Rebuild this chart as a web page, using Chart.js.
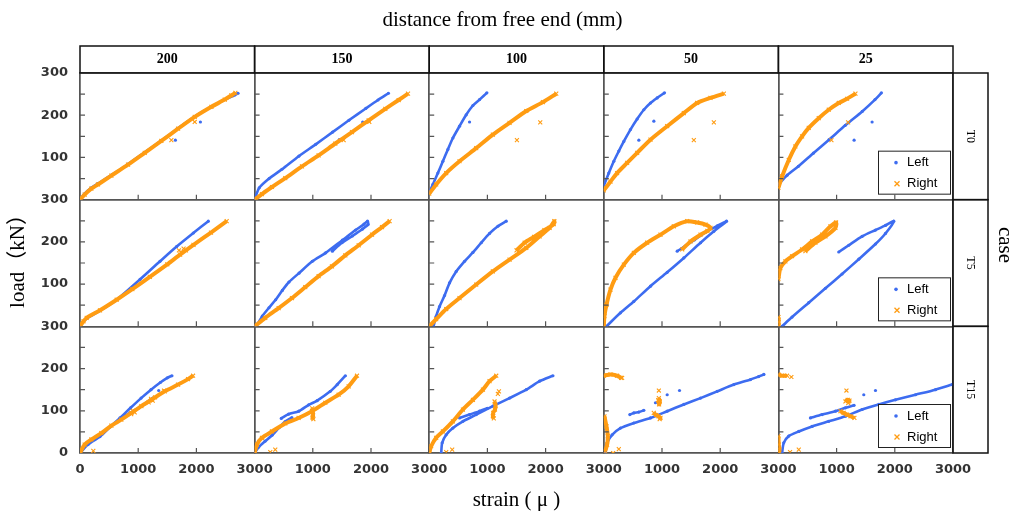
<!DOCTYPE html>
<html>
<head>
<meta charset="utf-8">
<script src="https://cdn.jsdelivr.net/npm/chart.js@4.4.1/dist/chart.umd.min.js"></script>
<style>
  html, body { margin: 0; padding: 0; background: #fff; }
  canvas { display: block; }
</style>
</head>
<body>
<canvas id="chart" width="1017" height="513"></canvas>
<script>
// facet labels and ticks
const distances = ['200', '150', '100', '50', '25'];
const cases = ['T0', 'T5', 'T15'];
const xTickVals = [1000, 2000];
const yTickVals = [50, 100, 150, 200, 250];

// ---- T0 ----  [strain, load]
const t0_200_left = [[0,0],[80,14],[195,28],[309,38],[539,58],[825,84],[1112,112],[1398,140],[1685,169],[1971,197],[2258,220],[2487,237],[2659,248],[2716,252]];
const t0_200_right = [[0,0],[80,12],[195,26],[309,36],[539,57],[825,83],[1112,111],[1398,139],[1685,168],[1971,196],[2258,220],[2487,237],[2600,247],[2670,253]];
const t0_200_left_pts = [[1639,141],[2069,184]];
const t0_200_right_pts = [[1570,141],[1971,184]];

const t0_150_left = [[0,0],[80,28],[250,50],[470,72],[760,103],[1050,131],[1340,160],[1620,188],[1910,216],[2120,236],[2300,252]];
const t0_150_right = [[0,0],[126,13],[298,30],[527,51],[814,79],[1100,105],[1387,133],[1673,160],[1960,188],[2246,215],[2475,236],[2636,251]];
const t0_150_left_pts = [[1455,142],[1857,184]];
const t0_150_right_pts = [[1530,141],[1971,184]];

const t0_100_left = [[0,17],[63,36],[149,63],[235,91],[321,119],[407,146],[521,174],[636,201],[751,223],[865,237],[991,253]];
const t0_100_right = [[0,14],[120,36],[292,63],[521,91],[808,122],[1094,154],[1381,182],[1668,210],[1954,231],[2183,251]];
const t0_100_left_pts = [[693,184]];
const t0_100_right_pts = [[1507,141],[1908,183]];

const t0_50_left = [[0,33],[86,63],[172,91],[258,115],[344,138],[458,166],[573,191],[688,213],[802,229],[917,241],[1043,253]];
const t0_50_right = [[0,22],[115,43],[229,63],[401,87],[573,111],[802,142],[1089,174],[1375,205],[1604,229],[1833,241],[2063,251]];
const t0_50_left_pts = [[602,141],[860,186]];
const t0_50_right_pts = [[1547,141],[1891,183]];

const t0_25_left = [[0,36],[150,58],[344,79],[600,110],[870,142],[1150,176],[1440,209],[1660,237],[1770,253]];
const t0_25_right = [[0,28],[63,55],[178,94],[292,126],[407,150],[521,170],[693,193],[865,213],[1037,229],[1180,239],[1324,251]];
const t0_25_left_pts = [[1301,141],[1610,184]];
const t0_25_right_pts = [[911,141],[1198,183]];

// ---- T5 ----
const t5_200_left = [[0,0],[60,11],[115,19],[344,37],[630,63],[1031,111],[1375,154],[1661,189],[1947,221],[2205,249]];
const t5_200_right = [[0,0],[60,12],[115,20],[344,38],[630,63],[900,88],[1200,117],[1500,147],[1720,170],[1950,193],[2250,222],[2520,249]];
const t5_200_right_pts = [[1700,180],[1740,176],[1780,184],[1820,180]];

const t5_150_left = [[0,0],[46,5],[132,24],[247,44],[362,63],[476,85],[591,105],[763,126],[992,154],[1221,174],[1507,204],[1736,228],[1880,242],[1940,249],[1950,241],[1850,230],[1680,214],[1500,198],[1336,178]];
const t5_150_right = [[0,0],[183,20],[413,43],[642,67],[871,93],[1100,119],[1329,142],[1559,168],[1788,192],[2017,217],[2189,235],[2320,249]];

const t5_100_left = [[74,0],[120,24],[178,47],[264,73],[350,103],[464,130],[607,154],[751,175],[894,198],[1037,220],[1180,237],[1324,249]];
const t5_100_right = [[0,0],[120,17],[292,41],[521,67],[808,99],[1094,130],[1381,158],[1668,186],[1897,213],[2069,233],[2150,249],[2140,242],[1980,228],[1800,212],[1640,198],[1500,180]];

const t5_50_left = [[46,0],[286,32],[516,59],[802,95],[1089,128],[1375,162],[1662,198],[1891,225],[2109,249],[1950,238],[1750,223],[1560,205],[1400,190],[1261,178]];
const t5_50_right = [[0,0],[11,24],[46,51],[115,87],[201,115],[344,146],[516,174],[745,198],[974,217],[1203,237],[1433,249],[1604,246],[1748,241],[1833,233],[1780,226],[1662,217],[1490,201],[1347,182]];

const t5_25_left = [[63,0],[235,22],[521,56],[808,90],[1094,124],[1381,159],[1668,195],[1840,220],[1983,249],[1840,239],[1668,228],[1438,213],[1209,192],[1037,176]];
const t5_25_right = [[0,112],[34,138],[120,154],[235,166],[407,182],[579,201],[751,217],[894,237],[991,246],[980,233],[808,213],[636,198],[464,178]];
const t5_25_right_low = [[2,0],[4,10],[2,22]];

// ---- T15 ----
const t15_200_left = [[0,0],[138,20],[344,39],[520,62],[687,83],[870,107],[1050,130],[1220,150],[1380,167],[1500,178],[1580,183]];
const t15_200_left_b = [[740,86],[860,95],[1000,106],[1120,117],[1250,130]];
const t15_200_left_pts = [[1352,148]];
const t15_200_right = [[0,0],[80,20],[195,32],[367,47],[539,65],[710,79],[882,95],[1055,111],[1226,126],[1455,146],[1685,162],[1857,175],[1943,183]];
const t15_200_right_pts = [[880,92],[910,100],[940,96],[1180,120],[1220,128],[1250,124],[1290,132],[1444,148],[229,5]];

const t15_150_left = [[0,0],[70,14],[180,28],[300,42],[420,60],[520,74],[640,84]];
const t15_150_left_b = [[458,82],[584,92],[760,99],[930,114],[1075,124],[1300,146],[1420,162],[1560,183]];
const t15_150_right = [[0,0],[40,20],[126,36],[298,51],[527,70],[756,83],[986,99],[1215,119],[1444,138],[1616,158],[1759,183]];
const t15_150_right_b = [[990,106],[1000,98],[1005,90],[995,84],[1010,80]];
const t15_150_right_pts = [[355,8],[269,2]];

const t15_100_left = [[206,0],[223,24],[292,43],[407,59],[579,75],[808,91],[1094,111],[1381,130],[1668,150],[1897,170],[2126,183]];
const t15_100_left_b = [[521,83],[693,91],[865,99],[1000,106]];
const t15_100_right = [[0,0],[34,16],[120,36],[235,51],[407,75],[579,103],[751,126],[923,150],[1037,170],[1152,183]];
const t15_100_right_b = [[1123,122],[1140,112],[1130,103],[1100,95],[1094,87],[1110,82]];
const t15_100_right_pts = [[1198,146],[1180,140],[395,8],[292,2]];

const t15_50_left = [[29,0],[57,24],[143,43],[286,59],[516,71],[802,83],[1089,99],[1375,115],[1662,130],[1948,146],[2235,162],[2521,174],[2750,186],[2660,181]];
const t15_50_left_b = [[447,91],[516,95],[602,97],[688,101]];
const t15_50_left_pts = [[888,119],[1089,138],[1301,148]];
const t15_50_right_top = [[0,183],[115,186],[229,183],[298,178]];
const t15_50_right_edge = [[11,87],[46,63],[69,40],[57,20],[23,4]];
const t15_50_right_b = [[946,130],[963,122],[950,115],[935,125]];
const t15_50_right_c = [[859,95],[900,90],[940,87],[974,83],[960,80]];
const t15_50_right_pts = [[315,178],[946,148],[258,9],[160,0]];

const t15_25_left = [[63,0],[92,24],[178,40],[350,51],[579,63],[865,75],[1152,87],[1438,103],[1725,115],[2011,126],[2355,138],[2699,150],[2985,162]];
const t15_25_left_b = [[550,83],[751,91],[980,99],[1152,107],[1300,113]];
const t15_25_left_pts = [[1467,138],[1668,148]];
const t15_25_right_top = [[0,186],[63,183],[149,183]];
const t15_25_right_edge = [[0,40],[6,20],[17,8],[6,0]];
const t15_25_right_b = [[1152,122],[1190,126],[1221,124],[1200,118]];
const t15_25_right_c = [[1066,99],[1120,95],[1180,91],[1240,87],[1306,83]];
const t15_25_right_pts = [[223,180],[1169,148],[350,8],[200,2]];

const blue = '#3d6cf0';
const orange = '#ff9c12';
const edgeColor = '#555';

const datasets = [];

function add(row, col, side, pts, joined = true) {
    const isLeft = side === 'L';
    const color = isLeft ? blue : orange;
    datasets.push({
        label: isLeft ? 'Left' : 'Right',
        data: pts.map(([x, y]) => ({ x, y })),
        xAxisID: 'x' + col,
        yAxisID: 'y' + row,
        showLine: joined,
        borderColor: color,
        backgroundColor: color,
        borderWidth: isLeft ? 2.6 : 4,
        tension: 0.25,
        pointStyle: isLeft ? 'circle' : 'crossRot',
        pointRadius: isLeft ? 1.6 : 2.8,
        pointBorderWidth: isLeft ? 0 : 1.1,
        pointBorderColor: color,
        pointBackgroundColor: color,
        pointHoverRadius: 0,
        order: isLeft ? 1 : 0
    });
}

// T0
add(0, 0, 'L', t0_200_left); add(0, 0, 'R', t0_200_right);
add(0, 0, 'L', t0_200_left_pts, false); add(0, 0, 'R', t0_200_right_pts, false);
add(0, 1, 'L', t0_150_left); add(0, 1, 'R', t0_150_right);
add(0, 1, 'L', t0_150_left_pts, false); add(0, 1, 'R', t0_150_right_pts, false);
add(0, 2, 'L', t0_100_left); add(0, 2, 'R', t0_100_right);
add(0, 2, 'L', t0_100_left_pts, false); add(0, 2, 'R', t0_100_right_pts, false);
add(0, 3, 'L', t0_50_left); add(0, 3, 'R', t0_50_right);
add(0, 3, 'L', t0_50_left_pts, false); add(0, 3, 'R', t0_50_right_pts, false);
add(0, 4, 'L', t0_25_left); add(0, 4, 'R', t0_25_right);
add(0, 4, 'L', t0_25_left_pts, false); add(0, 4, 'R', t0_25_right_pts, false);

// T5
add(1, 0, 'L', t5_200_left); add(1, 0, 'R', t5_200_right);
add(1, 0, 'R', t5_200_right_pts, false);
add(1, 1, 'L', t5_150_left); add(1, 1, 'R', t5_150_right);
add(1, 2, 'L', t5_100_left); add(1, 2, 'R', t5_100_right);
add(1, 3, 'L', t5_50_left); add(1, 3, 'R', t5_50_right);
add(1, 4, 'L', t5_25_left); add(1, 4, 'R', t5_25_right);
add(1, 4, 'R', t5_25_right_low);

// T15
add(2, 0, 'L', t15_200_left); add(2, 0, 'L', t15_200_left_b);
add(2, 0, 'L', t15_200_left_pts, false);
add(2, 0, 'R', t15_200_right); add(2, 0, 'R', t15_200_right_pts, false);
add(2, 1, 'L', t15_150_left); add(2, 1, 'L', t15_150_left_b);
add(2, 1, 'R', t15_150_right); add(2, 1, 'R', t15_150_right_b);
add(2, 1, 'R', t15_150_right_pts, false);
add(2, 2, 'L', t15_100_left); add(2, 2, 'L', t15_100_left_b);
add(2, 2, 'R', t15_100_right); add(2, 2, 'R', t15_100_right_b);
add(2, 2, 'R', t15_100_right_pts, false);
add(2, 3, 'L', t15_50_left); add(2, 3, 'L', t15_50_left_b);
add(2, 3, 'L', t15_50_left_pts, false);
add(2, 3, 'R', t15_50_right_top); add(2, 3, 'R', t15_50_right_edge);
add(2, 3, 'R', t15_50_right_b); add(2, 3, 'R', t15_50_right_c);
add(2, 3, 'R', t15_50_right_pts, false);
add(2, 4, 'L', t15_25_left); add(2, 4, 'L', t15_25_left_b);
add(2, 4, 'L', t15_25_left_pts, false);
add(2, 4, 'R', t15_25_right_top); add(2, 4, 'R', t15_25_right_edge);
add(2, 4, 'R', t15_25_right_b); add(2, 4, 'R', t15_25_right_c);
add(2, 4, 'R', t15_25_right_pts, false);

const tickFont = { family: 'DejaVu Sans', size: 13, weight: 'bold' };
const edgeGrid = (lo, hi) => ({
    color: c => (c.tick && (c.tick.value === lo || c.tick.value === hi)) ? edgeColor : 'rgba(0,0,0,0)',
    lineWidth: 1.5,
    drawTicks: false
});

const scales = {};
distances.forEach((d, i) => {
    scales['x' + i] = {
        type: 'linear',
        position: 'bottom',
        stack: 'cols',
        stackWeight: 1,
        min: 0,
        max: 3000,
        ticks: {
            stepSize: 1000,
            maxRotation: 0,
            autoSkip: false,
            padding: 9,
            color: '#333',
            font: tickFont,
            callback: v => (i > 0 && v === 0) ? '' : String(v)
        },
        grid: edgeGrid(0, 3000),
        border: { color: edgeColor, width: 1.5 },
        afterFit: s => { s.height = 30; }
    };
});
// left boxes are laid out in reverse order, so the bottom row goes in first
cases.map((c, j) => j).reverse().forEach(j => {
    scales['y' + j] = {
        type: 'linear',
        position: 'left',
        stack: 'rows',
        stackWeight: 1,
        min: 0,
        max: 300,
        ticks: {
            stepSize: 100,
            autoSkip: false,
            padding: 12,
            color: '#333',
            font: tickFont,
            callback: v => (j < cases.length - 1 && v === 0) ? '' : String(v)
        },
        grid: edgeGrid(0, 300),
        border: { color: edgeColor, width: 1.5 },
        afterFit: s => { s.width = 52; }
    };
});

const facetPlugin = {
    id: 'facets',
    afterDatasetsDraw(chart) {
        const { ctx } = chart;
        const xs = distances.map((_, i) => chart.scales['x' + i]);
        const ys = cases.map((_, j) => chart.scales['y' + j]);
        ctx.save();

        // inward tick marks in every panel
        ctx.strokeStyle = edgeColor;
        ctx.lineWidth = 1.2;
        ctx.beginPath();
        ys.forEach(y => xs.forEach(x => {
            const x0 = x.getPixelForValue(0);
            const y0 = y.getPixelForValue(0);
            xTickVals.forEach(v => {
                const px = x.getPixelForValue(v);
                ctx.moveTo(px, y0);
                ctx.lineTo(px, y0 - 5);
            });
            yTickVals.forEach(v => {
                const py = y.getPixelForValue(v);
                ctx.moveTo(x0, py);
                ctx.lineTo(x0 + 5, py);
            });
        }));
        ctx.stroke();

        // legend box in the last column of each row
        const last = xs[xs.length - 1];
        ys.forEach(y => {
            const w = 72, h = 43;
            const l = last.right - 3 - w;
            const t = y.bottom - 6 - h;
            ctx.fillStyle = '#fff';
            ctx.fillRect(l, t, w, h);
            ctx.strokeStyle = '#222';
            ctx.lineWidth = 1;
            ctx.strokeRect(l + 0.5, t + 0.5, w, h);
            ctx.fillStyle = blue;
            ctx.beginPath();
            ctx.arc(l + 18, t + 12, 1.8, 0, Math.PI * 2);
            ctx.fill();
            ctx.strokeStyle = orange;
            ctx.lineWidth = 1.3;
            ctx.beginPath();
            ctx.moveTo(l + 16.5, t + 30.5); ctx.lineTo(l + 21.5, t + 35.5);
            ctx.moveTo(l + 21.5, t + 30.5); ctx.lineTo(l + 16.5, t + 35.5);
            ctx.stroke();
            ctx.fillStyle = '#000';
            ctx.font = '13px "Liberation Sans", Arial, sans-serif';
            ctx.textAlign = 'left';
            ctx.textBaseline = 'middle';
            ctx.fillText('Left', l + 29, t + 12);
            ctx.fillText('Right', l + 29, t + 33);
        });
        ctx.restore();
    },
    afterDraw(chart) {
        const { ctx, chartArea: area } = chart;
        const xs = distances.map((_, i) => chart.scales['x' + i]);
        const ys = cases.map((_, j) => chart.scales['y' + j]);
        ctx.save();
        ctx.strokeStyle = '#111';
        ctx.lineWidth = 1.5;
        ctx.fillStyle = '#000';
        ctx.textAlign = 'center';
        ctx.textBaseline = 'middle';

        // column strips
        ctx.font = 'bold 14px "Liberation Serif", serif';
        xs.forEach((x, i) => {
            ctx.strokeRect(x.left, area.top - 27, x.width, 27);
            ctx.fillText(distances[i], (x.left + x.right) / 2, area.top - 13.5);
        });

        // row strips
        ctx.font = '12px "Liberation Serif", serif';
        ys.forEach((y, j) => {
            ctx.strokeRect(area.right, y.top, 35, y.height);
            ctx.save();
            ctx.translate(area.right + 17.5, (y.top + y.bottom) / 2);
            ctx.rotate(Math.PI / 2);
            ctx.fillText(cases[j], 0, 0);
            ctx.restore();
        });

        // titles
        const cx = (area.left + area.right) / 2;
        ctx.font = '21px "Liberation Serif", "Noto Sans CJK JP", serif';
        ctx.fillText('distance from free end (mm)', cx - 14, area.top - 53);
        ctx.fillText('strain ( \u03bc )', cx, area.bottom + 47);

        ctx.save();
        ctx.translate(18, 256);
        ctx.rotate(-Math.PI / 2);
        ctx.fillText('load\uff08kN\uff09', 0, 0);
        ctx.restore();

        ctx.save();
        ctx.translate(1005, 245);
        ctx.rotate(Math.PI / 2);
        ctx.fillText('case', 0, 0);
        ctx.restore();

        ctx.restore();
    }
};

new Chart(document.getElementById('chart').getContext('2d'), {
    type: 'scatter',
    data: { datasets: datasets },
    options: {
        responsive: false,
        animation: false,
        devicePixelRatio: 1,
        layout: { padding: { left: 28, right: 64, top: 73, bottom: 30 } },
        plugins: {
            legend: { display: false },
            title: { display: false },
            tooltip: { enabled: false }
        },
        scales: scales
    },
    plugins: [facetPlugin]
});
</script>
</body>
</html>
